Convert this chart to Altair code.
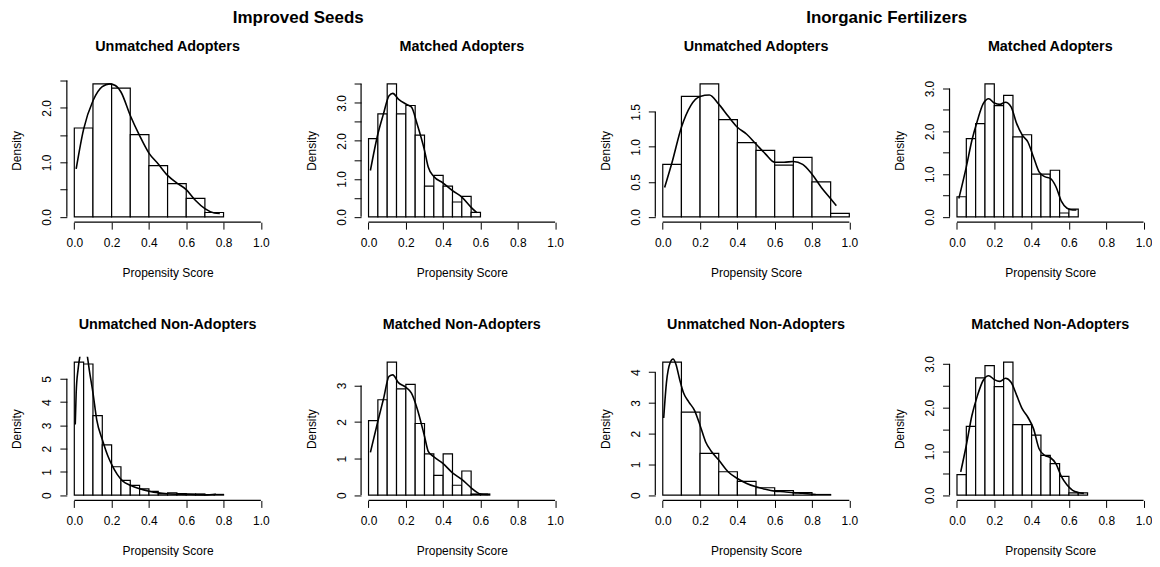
import altair as alt
import pandas as pd

FONT = "Liberation Sans"

# ---------------- data ----------------
SUPER_TITLES = ["Improved Seeds", "Inorganic Fertilizers"]

# Improved Seeds - Unmatched Adopters
IS_UA_BINW = 0.1
IS_UA_H = [1.63, 2.44, 2.36, 1.51, 0.94, 0.61, 0.34, 0.08]
IS_UA_DX = [0.01, 0.05, 0.10, 0.15, 0.19, 0.22, 0.25, 0.30, 0.35, 0.40, 0.45, 0.50, 0.55, 0.60, 0.65, 0.70, 0.75, 0.78]
IS_UA_DY = [0.88, 1.61, 2.13, 2.39, 2.44, 2.41, 2.29, 1.86, 1.49, 1.17, 0.97, 0.76, 0.62, 0.50, 0.30, 0.15, 0.07, 0.06]
IS_UA_TICKS = [0, 0.5, 1.0, 1.5, 2.0, 2.5]
IS_UA_LABELS = [0, 1.0, 2.0]

# Improved Seeds - Matched Adopters
IS_MA_BINW = 0.05
IS_MA_H = [2.06, 2.71, 3.50, 2.71, 2.93, 2.15, 0.81, 1.09, 0.81, 0.39, 0.54, 0.12]
IS_MA_DX = [0.01, 0.05, 0.08, 0.11, 0.13, 0.16, 0.20, 0.23, 0.26, 0.30, 0.32, 0.35, 0.40, 0.45, 0.50, 0.55, 0.58]
IS_MA_DY = [1.22, 2.18, 2.71, 3.19, 3.25, 3.10, 2.97, 2.89, 2.45, 1.75, 1.31, 1.06, 0.89, 0.69, 0.52, 0.25, 0.11]
IS_MA_TICKS = [0, 0.5, 1.0, 1.5, 2.0, 2.5, 3.0, 3.5]
IS_MA_LABELS = [0, 1.0, 2.0, 3.0]

# Inorganic Fertilizers - Unmatched Adopters
IF_UA_BINW = 0.1
IF_UA_H = [0.75, 1.72, 1.90, 1.39, 1.06, 0.95, 0.74, 0.85, 0.50, 0.05]
IF_UA_DX = [0.01, 0.05, 0.10, 0.15, 0.20, 0.25, 0.30, 0.35, 0.40, 0.45, 0.50, 0.55, 0.60, 0.65, 0.70, 0.75, 0.80, 0.85, 0.90, 0.93]
IF_UA_DY = [0.42, 0.78, 1.28, 1.59, 1.72, 1.74, 1.61, 1.44, 1.28, 1.18, 1.04, 0.90, 0.78, 0.78, 0.79, 0.75, 0.61, 0.42, 0.26, 0.16]
IF_UA_TICKS = [0, 0.5, 1.0, 1.5]
IF_UA_LABELS = [0, 0.5, 1.0, 1.5]

# Inorganic Fertilizers - Matched Adopters
IF_MA_BINW = 0.05
IF_MA_H = [0.47, 1.83, 2.18, 3.11, 2.60, 2.84, 1.87, 1.92, 1.00, 1.00, 1.09, 0.09, 0.18]
IF_MA_DX = [0.01, 0.05, 0.08, 0.11, 0.14, 0.17, 0.20, 0.23, 0.26, 0.29, 0.32, 0.35, 0.38, 0.41, 0.44, 0.47, 0.50, 0.53, 0.56, 0.59, 0.62, 0.64]
IF_MA_DY = [0.43, 1.17, 1.79, 2.26, 2.64, 2.76, 2.66, 2.63, 2.68, 2.57, 2.18, 1.91, 1.75, 1.40, 1.05, 0.94, 0.90, 0.71, 0.36, 0.20, 0.16, 0.16]
IF_MA_TICKS = [0, 0.5, 1.0, 1.5, 2.0, 2.5, 3.0]
IF_MA_LABELS = [0, 1.0, 2.0, 3.0]

# Improved Seeds - Unmatched Non-Adopters
IS_UN_BINW = 0.05
IS_UN_H = [5.72, 5.64, 3.42, 2.16, 1.22, 0.63, 0.42, 0.27, 0.16, 0.06, 0.10, 0.07, 0.05, 0.05, 0.02, 0.03]
IS_UN_DX = [0.005, 0.01, 0.02, 0.03, 0.05, 0.07, 0.08, 0.10, 0.12, 0.15, 0.18, 0.20, 0.23, 0.26, 0.30, 0.35, 0.40, 0.45, 0.50, 0.60, 0.70, 0.76]
IS_UN_DY = [3.04, 4.40, 5.40, 5.97, 6.50, 5.97, 5.40, 4.40, 3.25, 2.39, 1.68, 1.32, 0.89, 0.60, 0.42, 0.27, 0.17, 0.10, 0.06, 0.03, 0.01, 0.04]
IS_UN_TICKS = [0, 1, 2, 3, 4, 5]
IS_UN_LABELS = [0, 1, 2, 3, 4, 5]

# Improved Seeds - Matched Non-Adopters
IS_MN_BINW = 0.05
IS_MN_H = [2.04, 2.61, 3.64, 2.91, 3.03, 1.96, 1.13, 0.54, 1.13, 0.27, 0.66, 0.03, 0.03]
IS_MN_DX = [0.01, 0.05, 0.08, 0.11, 0.13, 0.16, 0.20, 0.23, 0.26, 0.30, 0.32, 0.35, 0.40, 0.45, 0.50, 0.55, 0.58, 0.60, 0.64]
IS_MN_DY = [1.17, 2.02, 2.63, 3.25, 3.29, 3.08, 2.95, 2.79, 2.38, 1.61, 1.20, 1.05, 0.86, 0.61, 0.43, 0.20, 0.08, 0.03, 0.02]
IS_MN_TICKS = [0, 1, 2, 3]
IS_MN_LABELS = [0, 1, 2, 3]

# Inorganic Fertilizers - Unmatched Non-Adopters
IF_UN_BINW = 0.1
IF_UN_H = [4.33, 2.70, 1.36, 0.76, 0.45, 0.24, 0.15, 0.08, 0.02]
IF_UN_DX = [0.005, 0.02, 0.04, 0.055, 0.07, 0.09, 0.11, 0.14, 0.17, 0.20, 0.23, 0.26, 0.30, 0.35, 0.40, 0.45, 0.50, 0.55, 0.60, 0.65, 0.70, 0.75, 0.80, 0.82]
IF_UN_DY = [2.51, 3.68, 4.32, 4.43, 4.27, 3.78, 3.35, 3.03, 2.76, 2.27, 1.73, 1.43, 1.14, 0.76, 0.54, 0.38, 0.27, 0.19, 0.13, 0.11, 0.08, 0.06, 0.03, 0.02]
IF_UN_TICKS = [0, 1, 2, 3, 4]
IF_UN_LABELS = [0, 1, 2, 3, 4]

# Inorganic Fertilizers - Matched Non-Adopters
IF_MN_BINW = 0.05
IF_MN_H = [0.47, 1.57, 2.68, 2.96, 2.48, 3.04, 1.61, 1.61, 1.37, 0.91, 0.72, 0.43, 0.05, 0.05]
IF_MN_DX = [0.02, 0.05, 0.08, 0.11, 0.14, 0.17, 0.20, 0.23, 0.26, 0.29, 0.32, 0.35, 0.38, 0.41, 0.44, 0.47, 0.50, 0.53, 0.56, 0.59, 0.62, 0.65, 0.68]
IF_MN_DY = [0.53, 1.14, 1.82, 2.28, 2.62, 2.73, 2.64, 2.60, 2.67, 2.58, 2.28, 1.97, 1.78, 1.52, 1.06, 0.91, 0.86, 0.72, 0.42, 0.23, 0.11, 0.06, 0.04]
IF_MN_TICKS = [0, 0.5, 1.0, 1.5, 2.0, 2.5, 3.0]
IF_MN_LABELS = [0, 1.0, 2.0, 3.0]

X_TICKS = [0, 0.2, 0.4, 0.6, 0.8, 1.0]
X_RANGE = [0, 1]

W, H = 202, 144


def panel(title, binw, heights, dx, dy, yticks, ylabels, fmt, super_title=None):
    bars = pd.DataFrame({
        "start": [i * binw for i in range(len(heights))],
        "end": [(i + 1) * binw for i in range(len(heights))],
        "h": heights,
        "base": [0] * len(heights),
    })
    dens = pd.DataFrame({"x": dx, "y": dy})
    m = max(heights)
    xs = alt.Scale(domain=[X_RANGE[0] - 0.04, X_RANGE[1] + 0.04], nice=False, zero=False)
    ys = alt.Scale(domain=[-0.04 * m, 1.04 * m], nice=False, zero=False)
    lab = "[" + ",".join(str(v) for v in ylabels) + "]"
    xaxis = alt.Axis(values=X_TICKS, format=".1f", domain=False, grid=False,
                     tickSize=7, tickColor="black", labelPadding=8,
                     labelFont=FONT, labelFontSize=12, labelColor="black",
                     labelFlush=False, labelOverlap=False,
                     title="Propensity Score", titleFont=FONT, titleFontSize=12,
                     titleFontWeight="normal", titleColor="black", titlePadding=19)
    yaxis = alt.Axis(values=yticks, domain=False, grid=False,
                     labelExpr=f"indexof({lab}, datum.value) >= 0 ? format(datum.value, '{fmt}') : ''",
                     tickSize=7, tickColor="black", labelPadding=6,
                     labelAngle=-90, labelAlign="center", labelBaseline="bottom",
                     labelFont=FONT, labelFontSize=12, labelColor="black",
                     labelFlush=False, labelOverlap=False, labelSeparation=0,
                     title="Density", titleFont=FONT, titleFontSize=12,
                     titleFontWeight="normal", titleColor="black", titlePadding=17)
    rect = alt.Chart(bars).mark_rect(fill="white", stroke="black", strokeWidth=1.2).encode(
        x=alt.X("start:Q", scale=xs, axis=xaxis),
        x2="end:Q",
        y=alt.Y("h:Q", scale=ys, axis=yaxis),
        y2="base:Q",
    )
    line = alt.Chart(dens).mark_line(color="black", strokeWidth=1.6, clip=True,
                                     interpolate="monotone").encode(
        x=alt.X("x:Q", scale=xs, axis=xaxis), y=alt.Y("y:Q", scale=ys, axis=yaxis))
    xl = alt.Chart(pd.DataFrame({"a": [X_TICKS[0]], "b": [X_TICKS[-1]]})).mark_rule(
        color="black", strokeWidth=1.2).encode(
        x=alt.X("a:Q", scale=xs, axis=xaxis), x2="b:Q", y=alt.value(H))
    yl = alt.Chart(pd.DataFrame({"a": [yticks[0]], "b": [yticks[-1]]})).mark_rule(
        color="black", strokeWidth=1.2).encode(
        y=alt.Y("a:Q", scale=ys, axis=yaxis), y2="b:Q", x=alt.value(0))
    ttl = alt.Chart(pd.DataFrame({"t": [title]})).mark_text(
        font=FONT, fontSize=14.4, fontWeight="bold", color="black",
        align="center", baseline="middle").encode(
        text="t:N", x=alt.value(W / 2), y=alt.value(-32))
    layers = [rect, line, xl, yl, ttl]
    if super_title is not None:
        st = alt.Chart(pd.DataFrame({"t": [super_title]})).mark_text(
            font=FONT, fontSize=17, fontWeight="bold", color="black",
            align="center", baseline="middle").encode(
            text="t:N", x=alt.value(232), y=alt.value(-61))
        layers.append(st)
    return alt.layer(*layers).properties(width=W, height=H)


p1 = panel("Unmatched Adopters", IS_UA_BINW, IS_UA_H, IS_UA_DX, IS_UA_DY, IS_UA_TICKS, IS_UA_LABELS, ".1f", SUPER_TITLES[0])
p2 = panel("Matched Adopters", IS_MA_BINW, IS_MA_H, IS_MA_DX, IS_MA_DY, IS_MA_TICKS, IS_MA_LABELS, ".1f")
p3 = panel("Unmatched Adopters", IF_UA_BINW, IF_UA_H, IF_UA_DX, IF_UA_DY, IF_UA_TICKS, IF_UA_LABELS, ".1f", SUPER_TITLES[1])
p4 = panel("Matched Adopters", IF_MA_BINW, IF_MA_H, IF_MA_DX, IF_MA_DY, IF_MA_TICKS, IF_MA_LABELS, ".1f")
p5 = panel("Unmatched Non-Adopters", IS_UN_BINW, IS_UN_H, IS_UN_DX, IS_UN_DY, IS_UN_TICKS, IS_UN_LABELS, "d")
p6 = panel("Matched Non-Adopters", IS_MN_BINW, IS_MN_H, IS_MN_DX, IS_MN_DY, IS_MN_TICKS, IS_MN_LABELS, "d")
p7 = panel("Unmatched Non-Adopters", IF_UN_BINW, IF_UN_H, IF_UN_DX, IF_UN_DY, IF_UN_TICKS, IF_UN_LABELS, "d")
p8 = panel("Matched Non-Adopters", IF_MN_BINW, IF_MN_H, IF_MN_DX, IF_MN_DY, IF_MN_TICKS, IF_MN_LABELS, ".1f")

chart = alt.concat(p1, p2, p3, p4, p5, p6, p7, p8, columns=4,
                   spacing={"row": 135, "column": 93}, bounds="flush").properties(
    padding={"left": 3, "top": 0, "right": 0, "bottom": 0},
    background="white",
).configure_view(stroke=None)

chart.save("out.html", embed_options={"renderer": "svg", "actions": False})
